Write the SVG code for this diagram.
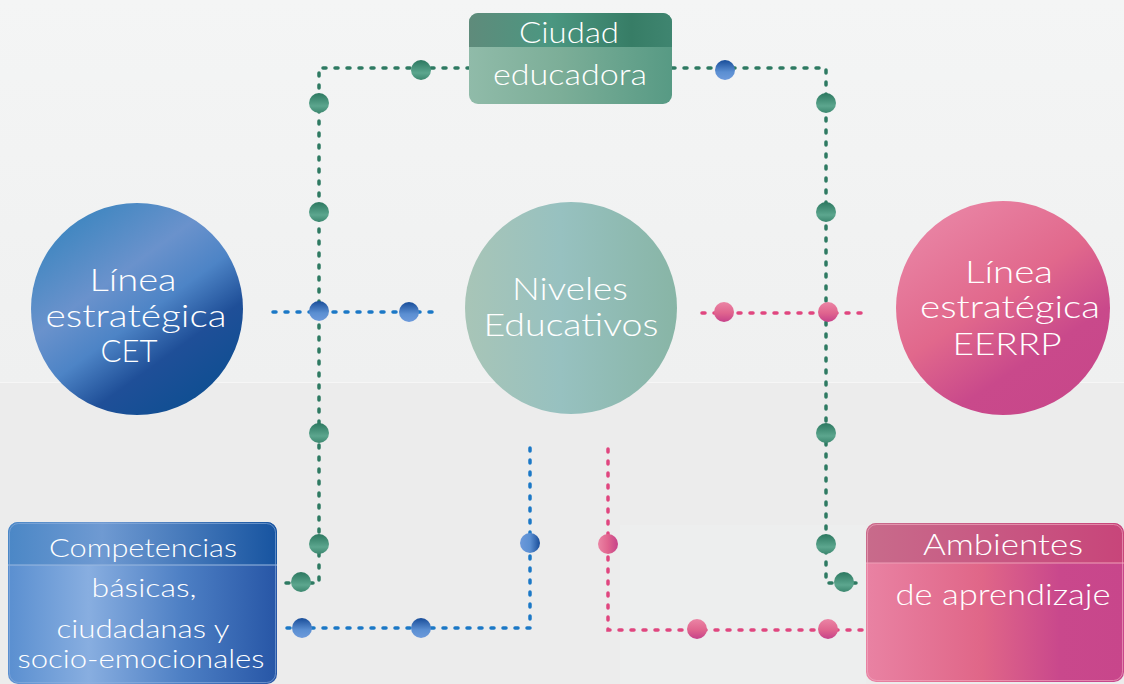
<svg xmlns="http://www.w3.org/2000/svg" width="1124" height="684" viewBox="0 0 1124 684">
<defs>
<linearGradient id="bgTop" x1="0" y1="0" x2="0" y2="1"><stop offset="0" stop-color="#f4f5f5"/><stop offset="1" stop-color="#eff0f0"/></linearGradient>
<linearGradient id="gCET" x1="0.15" y1="0.05" x2="0.8" y2="0.95"><stop offset="0" stop-color="#3a85bf"/><stop offset="0.35" stop-color="#6a92cc"/><stop offset="0.55" stop-color="#4d84c6"/><stop offset="0.75" stop-color="#1f4f98"/><stop offset="1" stop-color="#0e4f92"/></linearGradient>
<linearGradient id="gNiv" x1="0" y1="0" x2="1" y2="0"><stop offset="0" stop-color="#a8c5b7"/><stop offset="0.45" stop-color="#97c1c0"/><stop offset="1" stop-color="#88b5a6"/></linearGradient>
<linearGradient id="gEER" x1="0.2" y1="0.05" x2="0.8" y2="0.95"><stop offset="0" stop-color="#e984a4"/><stop offset="0.45" stop-color="#e1688c"/><stop offset="0.75" stop-color="#c9498b"/><stop offset="1" stop-color="#c8478a"/></linearGradient>
<linearGradient id="gCiuH" x1="0" y1="0" x2="1" y2="0"><stop offset="0" stop-color="#5f8b7b"/><stop offset="0.4" stop-color="#4b9781"/><stop offset="0.8" stop-color="#377d66"/><stop offset="1" stop-color="#3f8570"/></linearGradient>
<linearGradient id="gCiuB" x1="0" y1="0" x2="1" y2="0"><stop offset="0" stop-color="#90bba9"/><stop offset="0.45" stop-color="#7cae98"/><stop offset="1" stop-color="#579a84"/></linearGradient>
<linearGradient id="gComH" x1="0" y1="0" x2="1" y2="0"><stop offset="0" stop-color="#4b87c6"/><stop offset="0.35" stop-color="#6f9ad2"/><stop offset="1" stop-color="#1754a0"/></linearGradient>
<linearGradient id="gComB" x1="0" y1="0" x2="1" y2="0"><stop offset="0" stop-color="#5a8fd0"/><stop offset="0.3" stop-color="#88aee0"/><stop offset="0.65" stop-color="#4d7fc4"/><stop offset="1" stop-color="#2756a6"/></linearGradient>
<linearGradient id="gAmbH" x1="0" y1="0" x2="1" y2="0"><stop offset="0" stop-color="#c86b8b"/><stop offset="1" stop-color="#c8457a"/></linearGradient>
<linearGradient id="gAmbB" x1="0" y1="0" x2="1" y2="0"><stop offset="0" stop-color="#e982a3"/><stop offset="0.45" stop-color="#e06688"/><stop offset="0.75" stop-color="#c9488c"/><stop offset="1" stop-color="#c8468b"/></linearGradient>
<linearGradient id="dG" x1="0" y1="0" x2="0" y2="1"><stop offset="0" stop-color="#2c7860"/><stop offset="0.65" stop-color="#5ca68e"/><stop offset="1" stop-color="#3c876f"/></linearGradient>
<linearGradient id="dB" x1="0" y1="0" x2="0" y2="1"><stop offset="0" stop-color="#184d99"/><stop offset="0.6" stop-color="#5b8fd2"/><stop offset="1" stop-color="#6d9adb"/></linearGradient>
<linearGradient id="dBh" x1="0" y1="0" x2="1" y2="0"><stop offset="0" stop-color="#6d9adb"/><stop offset="0.5" stop-color="#5b8fd2"/><stop offset="1" stop-color="#184d99"/></linearGradient>
<linearGradient id="dP" x1="0" y1="0" x2="0" y2="1"><stop offset="0" stop-color="#eb85a5"/><stop offset="0.55" stop-color="#e0648e"/><stop offset="1" stop-color="#c6428a"/></linearGradient>
<linearGradient id="dPh" x1="0" y1="0" x2="1" y2="0"><stop offset="0" stop-color="#eb85a5"/><stop offset="0.5" stop-color="#e0648e"/><stop offset="1" stop-color="#c6428a"/></linearGradient>
</defs>
<style>
.t{font-family:Lato,"Open Sans","Liberation Sans",sans-serif;font-weight:300;fill:#ffffff;text-anchor:middle}
.big{font-size:32px}
.mid{font-size:29px}
.sm{font-size:26px}
.ln{fill:none;stroke-width:3.5;stroke-linecap:round;stroke-dasharray:3 9}
.lg{stroke:#2e7a62}
.lb{stroke:#1b78c6}
.lp{stroke:#e0467f}
.dg{fill:url(#dG)}
.db{fill:url(#dB)}
.dp{fill:url(#dP)}
</style>
<rect x="0" y="0" width="1124" height="382" fill="url(#bgTop)"/>
<rect x="0" y="382" width="1124" height="302" fill="#ececec"/>
<line x1="0" y1="382.5" x2="1124" y2="382.5" stroke="#f6f6f6" stroke-width="1"/>
<rect x="620" y="525" width="246" height="159" fill="#edeeee"/>

<g id="connectors">
<path class="ln lg" d="M470 68 H319 V583 H284"/>
<path class="ln lg" d="M672 68 H826 V583 H864"/>
<path class="ln lb" d="M273 312 H434"/>
<path class="ln lp" d="M702 313 H862"/>
<path class="ln lb" d="M530 448 V628 H282"/>
<path class="ln lp" d="M608 449 V630 H864"/>
<circle cx="528" cy="311" r="2.2" fill="#1b78c6"/>
<circle cx="608" cy="312" r="2.2" fill="#e0467f"/>
<circle class="dg" cx="421" cy="70" r="10"/>
<circle class="db" cx="725" cy="70" r="10"/>
<circle class="dg" cx="319" cy="103" r="10"/>
<circle class="dg" cx="319" cy="212" r="10"/>
<circle class="db" cx="319" cy="311" r="10"/>
<circle class="db" cx="409" cy="312" r="10"/>
<circle class="dg" cx="319" cy="433" r="10"/>
<circle class="dg" cx="319" cy="544" r="10"/>
<circle class="dg" cx="301" cy="582" r="10"/>
<circle class="db" cx="302" cy="628" r="10"/>
<circle class="db" cx="421" cy="628" r="10"/>
<circle cx="530" cy="543" r="10" fill="url(#dBh)"/>
<circle class="dg" cx="826" cy="103" r="10"/>
<circle class="dg" cx="826" cy="212" r="10"/>
<circle class="dp" cx="724" cy="312" r="10"/>
<circle class="dp" cx="828" cy="312" r="10"/>
<circle class="dg" cx="826" cy="433" r="10"/>
<circle class="dg" cx="826" cy="544" r="10"/>
<circle class="dg" cx="844" cy="582" r="10"/>
<circle cx="608" cy="544" r="10" fill="url(#dPh)"/>
<circle class="dp" cx="697" cy="629" r="10"/>
<circle class="dp" cx="828" cy="629" r="10"/>
</g>

<g id="ciudad">
<clipPath id="cpC"><rect x="469" y="13" width="203" height="91" rx="9"/></clipPath>
<g clip-path="url(#cpC)">
<rect x="469" y="13" width="203" height="91" fill="url(#gCiuB)"/>
<rect x="469" y="13" width="203" height="34" fill="url(#gCiuH)"/>
</g>
<text class="t mid" x="569" y="43" textLength="100" lengthAdjust="spacingAndGlyphs">Ciudad</text>
<text class="t mid" x="570" y="85" textLength="154" lengthAdjust="spacingAndGlyphs">educadora</text>
</g>

<g id="cet">
<circle cx="137" cy="309" r="106" fill="url(#gCET)"/>
<text class="t big" x="133" y="291" textLength="87" lengthAdjust="spacingAndGlyphs">Línea</text>
<text class="t big" x="136" y="327" textLength="181" lengthAdjust="spacingAndGlyphs">estratégica</text>
<text class="t big" x="129" y="362" textLength="57" lengthAdjust="spacingAndGlyphs">CET</text>
</g>

<g id="niveles">
<circle cx="571" cy="308" r="106" fill="url(#gNiv)"/>
<text class="t big" x="570" y="300" textLength="116" lengthAdjust="spacingAndGlyphs">Niveles</text>
<text class="t big" x="571" y="336" textLength="175" lengthAdjust="spacingAndGlyphs">Educativos</text>
</g>

<g id="eerrp">
<circle cx="1003" cy="308" r="107" fill="url(#gEER)"/>
<text class="t big" x="1009" y="283" textLength="88" lengthAdjust="spacingAndGlyphs">Línea</text>
<text class="t big" x="1010" y="318" textLength="180" lengthAdjust="spacingAndGlyphs">estratégica</text>
<text class="t big" x="1007" y="355" textLength="109" lengthAdjust="spacingAndGlyphs">EERRP</text>
</g>

<g id="competencias">
<clipPath id="cpP"><rect x="8" y="522" width="269" height="162" rx="10"/></clipPath>
<g clip-path="url(#cpP)">
<rect x="8" y="522" width="269" height="162" fill="url(#gComB)"/>
<rect x="8" y="522" width="269" height="43" fill="url(#gComH)"/>
<line x1="8" y1="565" x2="277" y2="565" stroke="#9bb9e0" stroke-width="1"/>
</g>
<rect x="9.5" y="523.5" width="266" height="159" rx="9" fill="none" stroke="#8fb0de" stroke-opacity="0.6" stroke-width="1"/>
<text class="t sm" x="143" y="557" textLength="188" lengthAdjust="spacingAndGlyphs">Competencias</text>
<text class="t sm" x="144" y="597" textLength="105" lengthAdjust="spacingAndGlyphs">básicas,</text>
<text class="t sm" x="143" y="638" textLength="173" lengthAdjust="spacingAndGlyphs">ciudadanas y</text>
<text class="t sm" x="141" y="668" textLength="247" lengthAdjust="spacingAndGlyphs">socio-emocionales</text>
</g>

<g id="ambientes">
<clipPath id="cpA"><rect x="866" y="523" width="258" height="159" rx="10"/></clipPath>
<g clip-path="url(#cpA)">
<rect x="866" y="523" width="258" height="159" fill="url(#gAmbB)"/>
<rect x="866" y="523" width="258" height="40" fill="url(#gAmbH)"/>
<line x1="866" y1="563" x2="1124" y2="563" stroke="#f0a0b8" stroke-width="1"/>
</g>
<rect x="867.5" y="524.5" width="255" height="156" rx="9" fill="none" stroke="#f4b0c4" stroke-opacity="0.6" stroke-width="1"/>
<text class="t mid" x="1003" y="555" textLength="160" lengthAdjust="spacingAndGlyphs">Ambientes</text>
<text class="t mid" x="1003" y="605" textLength="215" lengthAdjust="spacingAndGlyphs">de aprendizaje</text>
</g>
</svg>
